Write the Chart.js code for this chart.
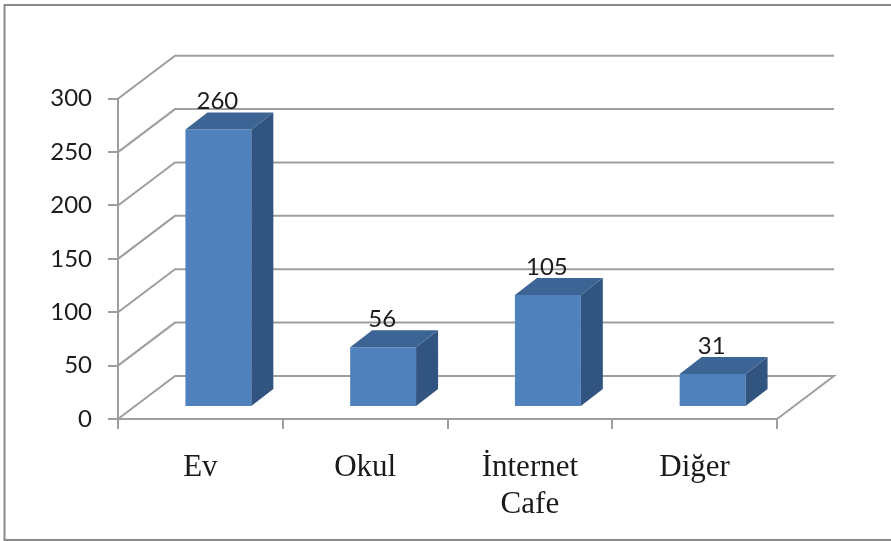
<!DOCTYPE html>
<html>
<head>
<meta charset="utf-8">
<style>html,body{margin:0;padding:0;background:#fff}canvas{display:block}</style>
<script src="https://cdn.jsdelivr.net/npm/chart.js@4"></script>
</head>
<body>
<canvas id="c" width="891" height="541"></canvas>
<script>
const categories = [["Ev"], ["Okul"], ["İnternet", "Cafe"], ["Diğer"]];
const values = [260, 56, 105, 31];
const yMax = 300;
const yStep = 50;

const GRID = '#9e9e9e';
const wall = {dx: 57, dy: -43};
const barShift = {dx: 18, dy: -12};
const barDepth = {dx: 22, dy: -17};

const threeD = {
  id: 'threeD',
  beforeDraw(chart) {
    const c = chart.ctx;
    c.save();
    c.fillStyle = '#fff';
    c.fillRect(0, 0, chart.width, chart.height);
    c.strokeStyle = '#8a8a8a';
    c.lineWidth = 2;
    c.strokeRect(4.5, 5, 900, 535);
    c.restore();
  },
  beforeDatasetsDraw(chart) {
    const c = chart.ctx, {x, y} = chart.scales;
    c.save();
    c.strokeStyle = GRID;
    c.lineWidth = 2;
    for (const t of y.ticks) {
      const py = y.getPixelForValue(t.value);
      c.beginPath();
      c.moveTo(x.left, py);
      c.lineTo(x.left + wall.dx, py + wall.dy);
      c.lineTo(x.right + wall.dx, py + wall.dy);
      if (t.value === 0) c.lineTo(x.right, py);
      c.stroke();
    }
    c.restore();
  },
  beforeDatasetDraw(chart) {
    chart.ctx.save();
    chart.ctx.translate(barShift.dx, barShift.dy);
  },
  afterDatasetDraw(chart, args) {
    const c = chart.ctx;
    const meta = chart.getDatasetMeta(args.index);
    meta.data.forEach((b, i) => {
      const hw = b.width / 2, l = b.x - hw, r = b.x + hw, t = b.y, bot = b.base;
      c.fillStyle = '#325480';
      c.beginPath();
      c.moveTo(r, t); c.lineTo(r + barDepth.dx, t + barDepth.dy);
      c.lineTo(r + barDepth.dx, bot + barDepth.dy); c.lineTo(r, bot);
      c.closePath(); c.fill();
      c.fillStyle = '#3c6494';
      c.beginPath();
      c.moveTo(l, t); c.lineTo(l + barDepth.dx, t + barDepth.dy);
      c.lineTo(r + barDepth.dx, t + barDepth.dy); c.lineTo(r, t);
      c.closePath(); c.fill();
      c.fillStyle = '#1c1c1c';
      c.font = '24px Lato';
      c.textAlign = 'center';
      c.textBaseline = 'middle';
      c.fillText(String(values[i]), b.x - 1, t - 28);
    });
    c.restore();
  }
};

new Chart(document.getElementById('c'), {
  type: 'bar',
  data: {
    labels: categories,
    datasets: [{
      data: values,
      backgroundColor: '#4f81bd',
      borderWidth: 0,
      barPercentage: 0.4,
      categoryPercentage: 1,
      clip: false
    }]
  },
  plugins: [threeD],
  options: {
    responsive: false,
    animation: false,
    devicePixelRatio: 1,
    layout: {padding: {top: 98.7, right: 114, left: 0, bottom: 0}},
    plugins: {legend: {display: false}, tooltip: {enabled: false}, title: {display: false}},
    scales: {
      x: {
        afterFit(s) { s.height = 122; },
        grid: {drawOnChartArea: false, color: GRID, lineWidth: 2, tickLength: 10, offset: true},
        border: {color: GRID, width: 2},
        ticks: {
          font: {family: 'Liberation Serif', size: 31},
          color: '#1a1a1a',
          padding: 20,
          maxRotation: 0,
          autoSkip: false
        }
      },
      y: {
        min: 0,
        max: yMax,
        afterFit(s) { s.width = 118; },
        grid: {drawOnChartArea: false, color: GRID, lineWidth: 2, tickLength: 10},
        border: {color: GRID, width: 2},
        ticks: {
          stepSize: yStep,
          font: {family: 'Lato', size: 24},
          color: '#1c1c1c',
          padding: 16
        }
      }
    }
  }
});
</script>
</body>
</html>
